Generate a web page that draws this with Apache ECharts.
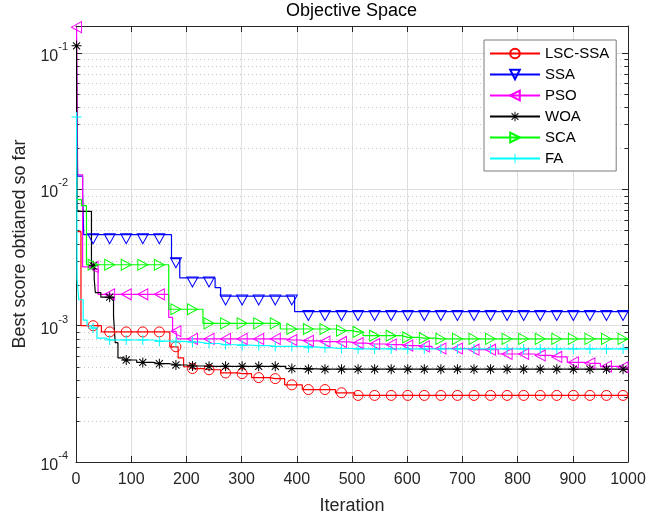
<!DOCTYPE html>
<html>
<head>
<meta charset="utf-8">
<title>Objective Space</title>
<script src="https://cdn.jsdelivr.net/npm/echarts@6/dist/echarts.min.js"></script>
<style>
  html, body { margin: 0; padding: 0; background: #ffffff; }
  #chart { width: 662px; height: 516px; }
</style>
</head>
<body>
<div id="chart"></div>
<script>
// Convergence curves: [iteration, best score] at each point where the best score changes.
const seriesNames = ['LSC-SSA', 'SSA', 'PSO', 'WOA', 'SCA', 'FA'];

const lscSsa = [
  [1, 4.9e-3], [9, 1.0e-3], [46, 9.0e-4], [170, 7.0e-4], [185, 5.8e-4], [195, 5.0e-4],
  [205, 4.85e-4], [230, 4.75e-4], [262, 4.5e-4], [292, 4.45e-4], [318, 4.16e-4],
  [350, 4.09e-4], [378, 3.68e-4], [410, 3.4e-4], [470, 3.22e-4], [505, 3.08e-4], [1000, 3.07e-4]
];
const ssa = [
  [1, 3.3e-2], [3, 1.25e-2], [12, 9.4e-3], [14, 4.65e-3], [173, 3.1e-3], [188, 2.24e-3],
  [252, 1.9e-3], [262, 1.65e-3], [396, 1.27e-3], [1000, 1.26e-3]
];
const pso = [
  [1, 0.155], [3, 1.28e-2], [12, 2.7e-3], [34, 2.6e-3], [40, 1.7e-3], [168, 1.15e-3],
  [175, 9.1e-4], [183, 8.0e-4], [380, 7.85e-4], [405, 7.75e-4], [440, 7.65e-4], [470, 7.6e-4],
  [495, 7.46e-4], [525, 7.34e-4], [560, 7.26e-4], [590, 7.15e-4], [620, 7.05e-4], [645, 6.8e-4],
  [705, 6.67e-4], [765, 6.2e-4], [830, 6.05e-4], [860, 5.9e-4], [890, 5.38e-4], [925, 5.3e-4],
  [950, 5.03e-4], [985, 4.95e-4], [996, 4.8e-4], [1000, 4.8e-4]
];
const woa = [
  [1, 0.113], [2, 6.9e-3], [28, 2.75e-3], [33, 2.2e-3], [35, 1.75e-3], [45, 1.62e-3],
  [68, 1.17e-3], [71, 7.5e-4], [76, 5.8e-4], [85, 5.6e-4], [110, 5.38e-4], [140, 5.26e-4],
  [170, 5.15e-4], [200, 5.06e-4], [230, 5.03e-4], [380, 4.85e-4], [420, 4.8e-4], [1000, 4.8e-4]
];
const sca = [
  [1, 8.4e-3], [10, 7.6e-3], [19, 2.8e-3], [168, 1.32e-3], [230, 1.04e-3], [370, 9.46e-4],
  [470, 9.2e-4], [500, 9.0e-4], [520, 8.45e-4], [590, 8.2e-4], [620, 8.1e-4], [650, 8.0e-4],
  [1000, 8.0e-4]
];
const fa = [
  [1, 3.4e-2], [2, 2.2e-3], [5, 1.55e-3], [13, 1.1e-3], [20, 1.0e-3], [28, 9.6e-4],
  [38, 8.1e-4], [55, 7.85e-4], [140, 7.7e-4], [180, 7.6e-4], [220, 7.4e-4], [260, 7.25e-4],
  [300, 7.15e-4], [350, 7.05e-4], [420, 6.9e-4], [460, 6.8e-4], [500, 6.75e-4], [1000, 6.75e-4]
];

// First iteration carrying a marker; markers repeat every 30 iterations.
const markerFirst = [31, 31, 1, 1, 31, 1];
const markerEvery = 30;

// Axis ranges and ticks
const xMin = 0, xMax = 1000, xInterval = 100;
const yMin = 1e-4, yMax = 0.158;
const minorMultipliers = [2, 3, 4, 5, 6, 7, 8, 9];
const decadeExponents = [-4, -3, -2, -1];

const FONT = 'Liberation Sans, Arial, Helvetica, sans-serif';
const AX = '#262626';

const colors = ['#ff0000', '#0000ff', '#ff00ff', '#000000', '#00ff00', '#00ffff'];
const curves = [lscSsa, ssa, pso, woa, sca, fa];

const ASTERISK = 'path://M0 9L20 9L20 11L0 11Z M9 0L11 0L11 20L9 20Z ' +
  'M3.6 2.2L17.8 16.4L16.4 17.8L2.2 3.6Z M16.4 2.2L17.8 3.6L3.6 17.8L2.2 16.4Z';
const PLUS = 'path://M9 0L11 0L11 20L9 20Z M0 9L20 9L20 11L0 11Z';

const markerStyles = [
  { symbol: 'circle', symbolSize: 10, symbolRotate: 0, hollow: true },
  { symbol: 'triangle', symbolSize: [11, 10], symbolRotate: 180, symbolOffset: [0, 4], hollow: true },
  { symbol: 'triangle', symbolSize: [11, 10], symbolRotate: 90, hollow: true },
  { symbol: ASTERISK, symbolSize: 10, symbolRotate: 0, hollow: false },
  { symbol: 'triangle', symbolSize: [11, 10], symbolRotate: -90, hollow: true },
  { symbol: PLUS, symbolSize: 10, symbolRotate: 0, hollow: false }
];

// Best score at iteration t: the last recorded value at or before t.
function scoreAt(points, t) {
  let v = points[0][1];
  for (const p of points) {
    if (p[0] <= t) v = p[1]; else break;
  }
  return v;
}

function buildSeriesData(points, firstMarker) {
  const marks = new Set();
  for (let t = firstMarker; t <= xMax; t += markerEvery) marks.add(t);
  const xs = new Set(points.map(p => p[0]));
  marks.forEach(t => xs.add(t));
  return Array.from(xs).sort((a, b) => a - b).map(t => {
    const item = { value: [t, scoreAt(points, t)] };
    if (!marks.has(t)) item.symbol = 'none';
    return item;
  });
}

const minorValues = [];
decadeExponents.forEach(e => {
  minorMultipliers.forEach(m => {
    const v = m * Math.pow(10, e);
    if (v > yMin && v < yMax) minorValues.push([xMin, v]);
  });
});

const lineSeries = seriesNames.map((name, i) => {
  const ms = markerStyles[i];
  return {
    name: name,
    type: 'line',
    step: 'end',
    z: 3,
    clip: true,
    data: buildSeriesData(curves[i], markerFirst[i]),
    symbol: ms.symbol,
    symbolSize: ms.symbolSize,
    symbolRotate: ms.symbolRotate,
    symbolOffset: ms.symbolOffset || [0, 0],
    showSymbol: true,
    lineStyle: { color: colors[i], width: 1.2 },
    itemStyle: ms.hollow
      ? { color: 'rgba(0,0,0,0)', borderColor: colors[i], borderWidth: 1 }
      : { color: colors[i], borderWidth: 0 },
    emphasis: { disabled: true },
    animation: false
  };
});

// Dotted minor grid lines and minor ticks at 2..9 x 10^k on the log axis.
const minorGridSeries = {
  type: 'custom',
  name: 'minor',
  z: 1,
  silent: true,
  animation: false,
  data: minorValues,
  encode: { x: 0, y: 1 },
  renderItem: function (params, api) {
    const cs = params.coordSys;
    const y = Math.round(api.coord([api.value(0), api.value(1)])[1]) + 0.5;
    const x0 = cs.x, x1 = cs.x + cs.width;
    return {
      type: 'group',
      children: [
        { type: 'line', shape: { x1: x0, y1: y, x2: x1, y2: y },
          style: { stroke: '#c4c4c4', lineWidth: 1, lineDash: [1, 3] } },
        { type: 'line', shape: { x1: x0, y1: y, x2: x0 + 3.5, y2: y },
          style: { stroke: AX, lineWidth: 1 } },
        { type: 'line', shape: { x1: x1 - 3.5, y1: y, x2: x1, y2: y },
          style: { stroke: AX, lineWidth: 1 } }
      ]
    };
  }
};

function powerLabel(v) {
  const e = Math.round(Math.log10(v));
  if (Math.abs(v / Math.pow(10, e) - 1) > 1e-6) return '';
  return '{b|10}{s|' + e + '}';
}

const chart = echarts.init(document.getElementById('chart'), null, { renderer: 'canvas' });

chart.setOption({
  backgroundColor: '#ffffff',
  animation: false,
  title: {
    text: 'Objective Space',
    left: 286,
    top: 0,
    padding: [2, 0, 0, 0],
    textStyle: { fontFamily: FONT, fontSize: 18, fontWeight: 'normal', color: '#000000' }
  },
  grid: { left: 76, right: 34, top: 26, bottom: 54, containLabel: false, outerBoundsMode: 'none' },
  legend: {
    data: seriesNames,
    orient: 'vertical',
    left: 484,
    top: 40,
    padding: [6, 7, 5, 5],
    itemWidth: 50,
    itemHeight: 12,
    itemGap: 6,
    backgroundColor: '#ffffff',
    borderColor: '#7a7a7a',
    borderWidth: 1,
    borderRadius: 0,
    textStyle: { fontFamily: FONT, fontSize: 15, color: '#000000', lineHeight: 15 },
    selectedMode: false
  },
  xAxis: [
    {
      type: 'value',
      min: xMin, max: xMax, interval: xInterval,
      name: 'Iteration',
      nameLocation: 'middle',
      nameGap: 35,
      nameTextStyle: { fontFamily: FONT, fontSize: 18, color: AX },
      axisLine: { show: true, onZero: false, lineStyle: { color: AX, width: 1 } },
      axisTick: { show: true, inside: true, length: 6, lineStyle: { color: AX } },
      axisLabel: { fontFamily: FONT, fontSize: 16, color: AX, margin: 10, formatter: v => String(v) },
      splitLine: { show: true, lineStyle: { color: '#dedede', width: 1 } }
    },
    {
      type: 'value', position: 'top',
      min: xMin, max: xMax, interval: xInterval,
      axisLine: { show: true, onZero: false, lineStyle: { color: AX, width: 1 } },
      axisTick: { show: true, inside: true, length: 6, lineStyle: { color: AX } },
      axisLabel: { show: false },
      splitLine: { show: false }
    }
  ],
  yAxis: [
    {
      type: 'log', logBase: 10,
      min: yMin, max: yMax,
      name: 'Best score obtianed so far',
      nameLocation: 'middle',
      nameGap: 36,
      nameTextStyle: { fontFamily: FONT, fontSize: 18, color: AX },
      axisLine: { show: true, onZero: false, lineStyle: { color: AX, width: 1 } },
      axisTick: { show: true, inside: true, length: 6, lineStyle: { color: AX } },
      axisLabel: {
        margin: 8,
        formatter: powerLabel,
        rich: {
          b: { fontFamily: FONT, fontSize: 16, color: AX, verticalAlign: 'bottom', padding: [7, 0, 0, 0] },
          s: { fontFamily: FONT, fontSize: 11, color: AX, verticalAlign: 'top' }
        }
      },
      splitLine: { show: true, lineStyle: { color: '#dedede', width: 1 } }
    },
    {
      type: 'log', logBase: 10, position: 'right',
      min: yMin, max: yMax,
      axisLine: { show: true, onZero: false, lineStyle: { color: AX, width: 1 } },
      axisTick: { show: true, inside: true, length: 6, lineStyle: { color: AX } },
      axisLabel: { show: false },
      splitLine: { show: false }
    }
  ],
  series: [minorGridSeries].concat(lineSeries)
});
</script>
</body>
</html>
